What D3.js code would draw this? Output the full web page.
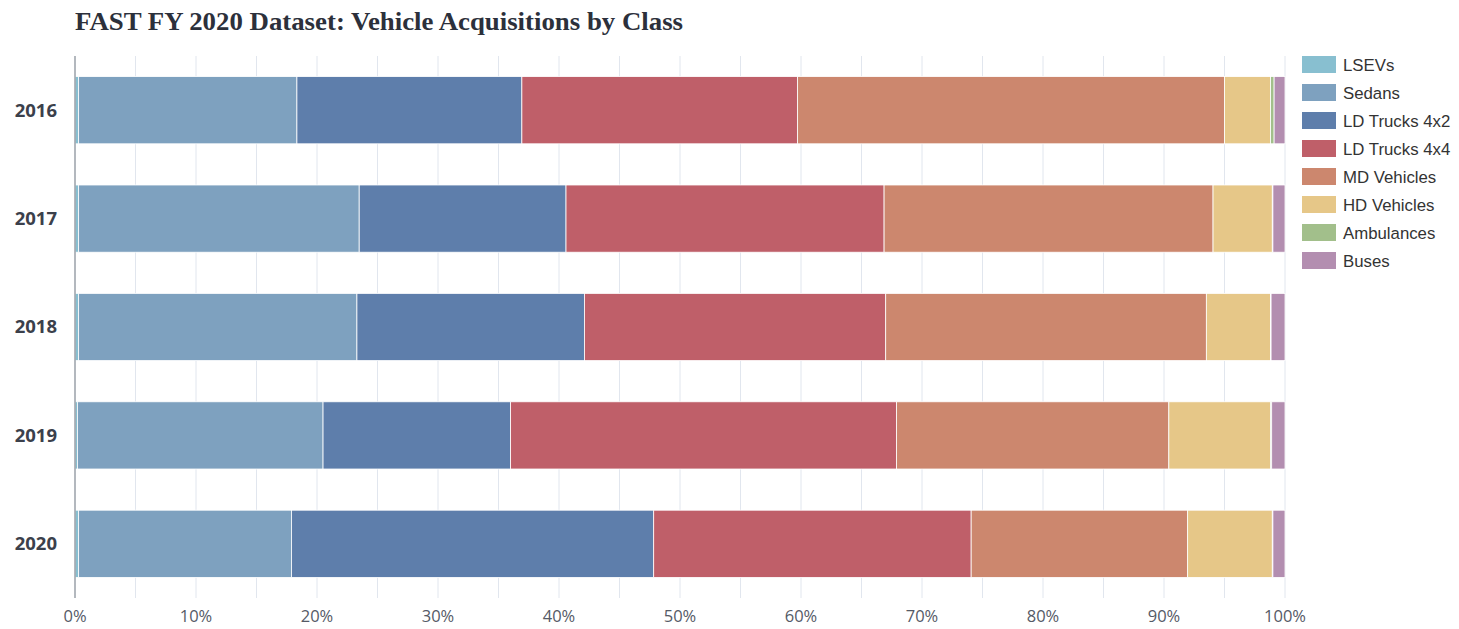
<!DOCTYPE html>
<html>
<head>
<meta charset="utf-8">
<script src="https://cdn.jsdelivr.net/npm/d3@7"></script>
<style>
  body { margin: 0; background: #fff; }
  svg { display: block; }
</style>
</head>
<body>
<div id="chart"></div>
<script>
// chart values (percent of acquisitions per year)
var years = ["2016", "2017", "2018", "2019", "2020"];
var classes = ["LSEVs", "Sedans", "LD Trucks 4x2", "LD Trucks 4x4", "MD Vehicles", "HD Vehicles", "Ambulances", "Buses"];
var lsevs      = [0.3, 0.3, 0.3, 0.2, 0.3];
var sedans     = [18.05, 23.2, 23.0, 20.3, 17.6];
var ldTrucks42 = [18.6, 17.1, 18.8, 15.5, 29.95];
var ldTrucks44 = [22.8, 26.3, 24.9, 31.9, 26.25];
var mdVehicles = [35.3, 27.2, 26.5, 22.5, 17.9];
var hdVehicles = [3.8, 4.9, 5.3, 8.4, 7.0];
var ambulances = [0.3, 0.05, 0.05, 0.1, 0.05];
var buses      = [0.9, 1.0, 1.15, 1.1, 1.0];
var xTicks = [0, 0.1, 0.2, 0.3, 0.4, 0.5, 0.6, 0.7, 0.8, 0.9, 1.0];

var colors = ["#88bfd0", "#7ea1bf", "#5e7eab", "#bf5f69", "#cc876e", "#e6c788", "#a2bf8b", "#b38eb0"];

var series = [lsevs, sedans, ldTrucks42, ldTrucks44, mdVehicles, hdVehicles, ambulances, buses];
var rows = years.map(function(y, i) {
  var r = { year: y };
  classes.forEach(function(c, j) { r[c] = series[j][i]; });
  return r;
});

var width = 1459, height = 629;
var margin = { left: 75, right: 174, top: 56, bottom: 31 };

var svg = d3.select("#chart").append("svg")
  .attr("width", width)
  .attr("height", height);

var x = d3.scaleLinear().domain([0, 1]).range([margin.left, width - margin.right]);
var y = d3.scaleBand().domain(years)
  .range([margin.top, height - margin.bottom])
  .paddingInner(0.38).paddingOuter(0.19);

var stacked = d3.stack().keys(classes).offset(d3.stackOffsetExpand)(rows);

// grid lines every 5%
var grid = d3.range(0.05, 1.001, 0.05);
svg.append("g").selectAll("line")
  .data(grid)
  .enter().append("line")
  .attr("x1", function(d) { return x(d); })
  .attr("x2", function(d) { return x(d); })
  .attr("y1", margin.top)
  .attr("y2", 598)
  .attr("stroke", "#e1e6ee")
  .attr("stroke-width", 1);

// bars
svg.append("g").selectAll("g")
  .data(stacked)
  .enter().append("g")
  .attr("fill", function(d, i) { return colors[i]; })
  .selectAll("rect")
  .data(function(d) { return d; })
  .enter().append("rect")
  .attr("x", function(d) { return x(d[0]); })
  .attr("width", function(d) { return Math.max(0, x(d[1]) - x(d[0])); })
  .attr("y", function(d) { return y(d.data.year); })
  .attr("height", y.bandwidth())
  .attr("stroke", "#fff")
  .attr("stroke-width", 0.8);

// left axis line
svg.append("line")
  .attr("x1", margin.left).attr("x2", margin.left)
  .attr("y1", margin.top).attr("y2", 598)
  .attr("stroke", "#9aa0a8").attr("stroke-width", 1.5);

// year labels
svg.append("g").selectAll("text")
  .data(years)
  .enter().append("text")
  .attr("x", 57)
  .attr("y", function(d) { return y(d) + y.bandwidth() / 2; })
  .attr("dy", "0.35em")
  .attr("text-anchor", "end")
  .attr("font-family", "'Open Sans', sans-serif")
  .attr("font-weight", "bold")
  .attr("font-size", 18.5)
  .attr("fill", "#3b404b")
  .text(function(d) { return d; });

// x tick labels
svg.append("g").selectAll("text")
  .data(xTicks)
  .enter().append("text")
  .attr("x", function(d) { return x(d); })
  .attr("y", 622)
  .attr("text-anchor", "middle")
  .attr("font-family", "'Open Sans', sans-serif")
  .attr("font-size", 16.5)
  .attr("fill", "#555a66")
  .text(d3.format(".0%"));

// title (condensed serif look)
svg.append("text")
  .attr("x", 75)
  .attr("y", 30)
  .attr("font-family", "'Liberation Serif', serif")
  .attr("font-weight", "bold")
  .attr("font-size", 25.5)
  .attr("textLength", 608)
  .attr("lengthAdjust", "spacingAndGlyphs")
  .attr("fill", "#2c303b")
  .text("FAST FY 2020 Dataset: Vehicle Acquisitions by Class");

// legend
var legend = svg.append("g").selectAll("g")
  .data(classes)
  .enter().append("g")
  .attr("transform", function(d, i) { return "translate(1302," + (56 + i * 28) + ")"; });

legend.append("rect")
  .attr("width", 34)
  .attr("height", 17)
  .attr("fill", function(d, i) { return colors[i]; });

legend.append("text")
  .attr("x", 41)
  .attr("y", 9)
  .attr("dy", "0.35em")
  .attr("font-family", "'Liberation Sans', Arial, sans-serif")
  .attr("font-size", 16.8)
  .attr("fill", "#333")
  .text(function(d) { return d; });
</script>
</body>
</html>
